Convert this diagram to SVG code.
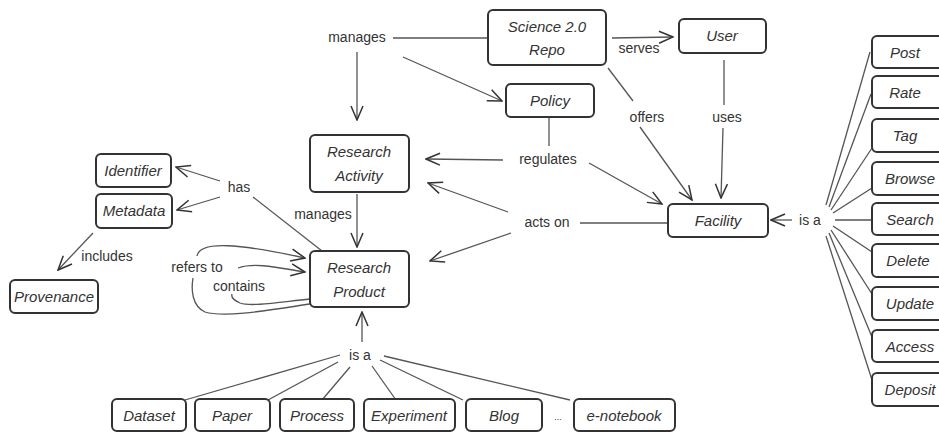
<svg xmlns="http://www.w3.org/2000/svg" width="939" height="432" viewBox="0 0 939 432">
<style>
.box{fill:#fff;stroke:#333;stroke-width:2;}
.bt{font-family:"Liberation Sans",sans-serif;font-style:italic;font-size:15px;fill:#333;text-anchor:middle;}
.lb{font-family:"Liberation Sans",sans-serif;font-size:14px;fill:#333;text-anchor:middle;}
.ln{fill:none;stroke:#555;stroke-width:1.3;}
</style>
<defs>
<marker id="arr" viewBox="0 0 16 16" refX="15" refY="8" markerWidth="16" markerHeight="16" orient="auto" markerUnits="userSpaceOnUse">
<path d="M1,2 L15,8 L1,14" fill="none" stroke="#333" stroke-width="1.5"/>
</marker>
</defs>
<rect width="939" height="432" fill="#fff"/>
<g id="connectors">
<line class="ln" x1="393" y1="38" x2="488" y2="38"/>
<line class="ln" x1="357" y1="52" x2="357" y2="120" marker-end="url(#arr)"/>
<line class="ln" x1="403" y1="57" x2="502" y2="101" marker-end="url(#arr)"/>
<line class="ln" x1="612" y1="38" x2="673" y2="37" marker-end="url(#arr)"/>
<line class="ln" x1="608" y1="68" x2="633" y2="101"/>
<line class="ln" x1="640" y1="127" x2="692" y2="200" marker-end="url(#arr)"/>
<line class="ln" x1="724" y1="60" x2="724" y2="105"/>
<line class="ln" x1="723" y1="128" x2="721" y2="198" marker-end="url(#arr)"/>
<line class="ln" x1="549" y1="117" x2="549" y2="146"/>
<line class="ln" x1="503" y1="160" x2="426" y2="159" marker-end="url(#arr)"/>
<line class="ln" x1="589" y1="163" x2="662" y2="204" marker-end="url(#arr)"/>
<line class="ln" x1="580" y1="223" x2="668" y2="223"/>
<line class="ln" x1="508" y1="212" x2="428" y2="183" marker-end="url(#arr)"/>
<line class="ln" x1="511" y1="233" x2="430" y2="261" marker-end="url(#arr)"/>
<line class="ln" x1="357" y1="194" x2="357" y2="247" marker-end="url(#arr)"/>
<line class="ln" x1="253" y1="197" x2="322" y2="251"/>
<line class="ln" x1="220" y1="181" x2="176" y2="167" marker-end="url(#arr)"/>
<line class="ln" x1="220" y1="197" x2="177" y2="210" marker-end="url(#arr)"/>
<line class="ln" x1="93" y1="233" x2="58" y2="270" marker-end="url(#arr)"/>
<path class="ln" d="M310,304 C270,310 225,318 205,312 C192,306 191,290 193,278"/>
<path class="ln" d="M197,256 C200,240 240,244 305,258" marker-end="url(#arr)"/>
<path class="ln" d="M310,299 C280,302 252,307 240,303 C233,300 231,297 232,294"/>
<path class="ln" d="M238,268 C255,262 280,268 305,272" marker-end="url(#arr)"/>
<line class="ln" x1="362" y1="342" x2="362" y2="312" marker-end="url(#arr)"/>
<line class="ln" x1="340" y1="355" x2="185" y2="400"/>
<line class="ln" x1="338" y1="362" x2="268" y2="400"/>
<line class="ln" x1="350" y1="367" x2="322" y2="400"/>
<line class="ln" x1="372" y1="366" x2="396" y2="400"/>
<line class="ln" x1="380" y1="360" x2="463" y2="400"/>
<line class="ln" x1="384" y1="356" x2="570" y2="400"/>
<line class="ln" x1="792" y1="220" x2="771" y2="220" marker-end="url(#arr)"/>
<line class="ln" x1="826" y1="205" x2="870" y2="52"/>
<line class="ln" x1="829" y1="207" x2="871" y2="94"/>
<line class="ln" x1="831" y1="210" x2="872" y2="148"/>
<line class="ln" x1="833" y1="213" x2="872" y2="188"/>
<line class="ln" x1="835" y1="220" x2="872" y2="220"/>
<line class="ln" x1="833" y1="226" x2="872" y2="252"/>
<line class="ln" x1="831" y1="230" x2="872" y2="294"/>
<line class="ln" x1="829" y1="233" x2="872" y2="337"/>
<line class="ln" x1="826" y1="236" x2="872" y2="380"/>
</g>
<g id="labels">
<text class="lb" x="357" y="42">manages</text>
<text class="lb" x="639" y="53">serves</text>
<text class="lb" x="647" y="122">offers</text>
<text class="lb" x="727" y="122">uses</text>
<text class="lb" x="548" y="164">regulates</text>
<text class="lb" x="547" y="227">acts on</text>
<text class="lb" x="323" y="219">manages</text>
<text class="lb" x="239" y="192">has</text>
<text class="lb" x="107" y="261">includes</text>
<text class="lb" x="197" y="272">refers to</text>
<text class="lb" x="239" y="291">contains</text>
<text class="lb" x="360" y="360">is a</text>
<text class="lb" x="810" y="225">is a</text>
<text class="lb" x="558" y="420" style="font-size:9px">...</text>
</g>
<g id="science-repo"><rect class="box" x="488" y="10" width="118" height="55" rx="5"/><text class="bt" x="547" y="32">Science 2.0</text><text class="bt" x="547" y="55">Repo</text></g>
<g id="user"><rect class="box" x="679" y="19" width="87" height="34" rx="5"/><text class="bt" x="722" y="41">User</text></g>
<g id="policy"><rect class="box" x="506" y="84" width="88" height="33" rx="5"/><text class="bt" x="550" y="106">Policy</text></g>
<g id="research-activity"><rect class="box" x="310" y="135" width="99" height="57" rx="5"/><text class="bt" x="359" y="157">Research</text><text class="bt" x="359" y="181">Activity</text></g>
<g id="research-product"><rect class="box" x="310" y="251" width="99" height="56" rx="5"/><text class="bt" x="359" y="273">Research</text><text class="bt" x="359" y="297">Product</text></g>
<g id="facility"><rect class="box" x="668" y="204" width="100" height="33" rx="5"/><text class="bt" x="718" y="226">Facility</text></g>
<g id="identifier"><rect class="box" x="96" y="154" width="75" height="33" rx="5"/><text class="bt" x="133" y="176">Identifier</text></g>
<g id="metadata"><rect class="box" x="96" y="194" width="76" height="34" rx="5"/><text class="bt" x="134" y="216">Metadata</text></g>
<g id="provenance"><rect class="box" x="10" y="280" width="88" height="33" rx="5"/><text class="bt" x="54" y="302">Provenance</text></g>
<g id="dataset"><rect class="box" x="112" y="399" width="74" height="32" rx="5"/><text class="bt" x="149" y="421">Dataset</text></g>
<g id="paper"><rect class="box" x="195" y="399" width="75" height="32" rx="5"/><text class="bt" x="232" y="421">Paper</text></g>
<g id="process"><rect class="box" x="280" y="399" width="74" height="32" rx="5"/><text class="bt" x="317" y="421">Process</text></g>
<g id="experiment"><rect class="box" x="364" y="399" width="91" height="32" rx="5"/><text class="bt" x="409" y="421">Experiment</text></g>
<g id="blog"><rect class="box" x="466" y="399" width="76" height="32" rx="5"/><text class="bt" x="504" y="421">Blog</text></g>
<g id="e-notebook"><rect class="box" x="574" y="399" width="101" height="32" rx="5"/><text class="bt" x="624" y="421">e-notebook</text></g>
<g id="post"><rect class="box" x="872" y="36" width="80" height="32" rx="5"/><text class="bt" x="905" y="58">Post</text></g>
<g id="rate"><rect class="box" x="872" y="76" width="80" height="32" rx="5"/><text class="bt" x="905" y="98">Rate</text></g>
<g id="tag"><rect class="box" x="872" y="119" width="80" height="33" rx="5"/><text class="bt" x="905" y="141">Tag</text></g>
<g id="browse"><rect class="box" x="872" y="162" width="80" height="33" rx="5"/><text class="bt" x="910" y="184">Browse</text></g>
<g id="search"><rect class="box" x="872" y="203" width="80" height="32" rx="5"/><text class="bt" x="910" y="225">Search</text></g>
<g id="delete"><rect class="box" x="872" y="244" width="80" height="33" rx="5"/><text class="bt" x="908" y="266">Delete</text></g>
<g id="update"><rect class="box" x="872" y="287" width="80" height="33" rx="5"/><text class="bt" x="910" y="309">Update</text></g>
<g id="access"><rect class="box" x="872" y="330" width="80" height="32" rx="5"/><text class="bt" x="910" y="352">Access</text></g>
<g id="deposit"><rect class="box" x="872" y="373" width="80" height="33" rx="5"/><text class="bt" x="910" y="395">Deposit</text></g>
</svg>
